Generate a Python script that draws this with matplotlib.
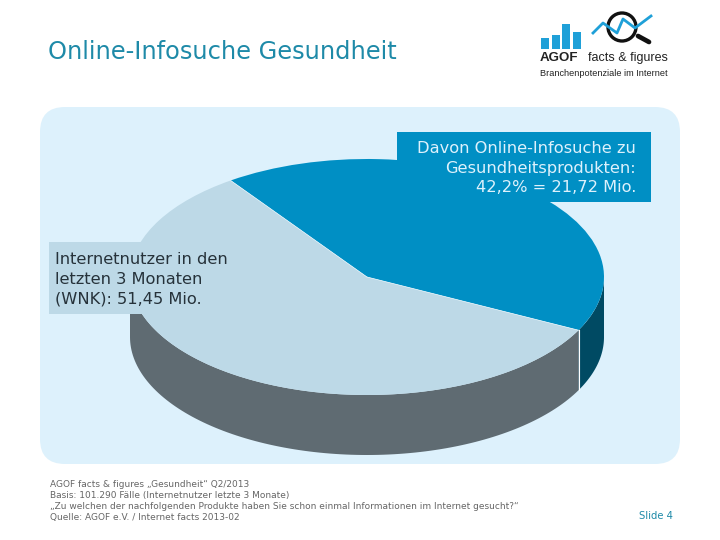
"""Online-Infosuche Gesundheit slide: tilted 3D-style pie with callout boxes and logo."""
import numpy as np
import matplotlib
matplotlib.use("Agg")
import matplotlib.pyplot as plt
from matplotlib.patches import FancyBboxPatch, Rectangle, Circle, Polygon

shares = [42.2, 57.8]
top_colors = ["#008fc4", "#bdd9e7"]
side_colors = ["#004a63", "#5f6b72"]
start_angle = -26.8

logo_bars = [11, 14, 25, 17]
logo_line_x = [593, 603, 617, 623, 635, 651]
logo_line_y = [33, 23, 33, 19, 28, 16]

title = "Online-Infosuche Gesundheit"
box_blue = "Davon Online-Infosuche zu\nGesundheitsprodukten:\n42,2% = 21,72 Mio."
box_light = "Internetnutzer in den\nletzten 3 Monaten\n(WNK): 51,45 Mio."
notes = [
    "AGOF facts & figures „Gesundheit“ Q2/2013",
    "Basis: 101.290 Fälle (Internetnutzer letzte 3 Monate)",
    "„Zu welchen der nachfolgenden Produkte haben Sie schon einmal Informationen im Internet gesucht?“",
    "Quelle: AGOF e.V. / Internet facts 2013-02",
]
slide = "Slide 4"

TEAL = "#1e8aa8"
PANEL = "#ddf1fc"
W, H = 720, 540

fig = plt.figure(figsize=(7.2, 5.4), dpi=100, facecolor="white")


def px_axes(zorder):
    a = fig.add_axes([0, 0, 1, 1], zorder=zorder)
    a.set_xlim(0, W); a.set_ylim(H, 0); a.axis("off")
    a.patch.set_alpha(0)
    return a


bg = px_axes(0)
bg.add_patch(FancyBboxPatch((40, 107), 640, 357, boxstyle="round,pad=0,rounding_size=25",
                            fc=PANEL, ec="none"))
bg.text(48, 52, title, fontsize=17.4, color=TEAL, va="center", ha="left")

# pie lives in unit coordinates, squashed into a pixel box
cx, cy, rx, ry, depth = 367, 277, 237, 118, 60
ax = fig.add_axes([(cx - rx) / W, 1 - (cy + ry + depth) / H, 2 * rx / W, (2 * ry + depth) / H], zorder=1)
d = depth / ry

# side wall: only the front half (180..360 deg) of each slice shows
edges = start_angle + np.cumsum([0] + shares) * 3.6
for i in range(len(shares)):
    for a0, a1 in [(edges[i], edges[i + 1]), (edges[i] - 360, edges[i + 1] - 360)]:
        lo, hi = max(a0, -180), min(a1, 0)
        if hi <= lo:
            continue
        t = np.radians(np.linspace(lo, hi, 120))
        xs = np.cos(t); ys = np.sin(t)
        ax.add_patch(Polygon(np.r_[np.c_[xs, ys], np.c_[xs[::-1], ys[::-1] - d]],
                             fc=side_colors[i], ec="none"))

# white seam where the slices meet on the wall
seam = np.radians(start_angle)
ax.plot([np.cos(seam)] * 2, [np.sin(seam), np.sin(seam) - d], color="white", lw=0.8)

ax.pie(shares, colors=top_colors, startangle=start_angle, radius=1, center=(0, 0),
       wedgeprops=dict(edgecolor="none"))
for a in edges[:2]:
    ax.plot([0, np.cos(np.radians(a))], [0, np.sin(np.radians(a))], color="#e8f5fb", lw=0.5)
ax.set_aspect("auto")
ax.set_xlim(-1, 1); ax.set_ylim(-1 - d, 1)
ax.axis("off")

fg = px_axes(2)
fg.add_patch(Rectangle((397, 132), 254, 70, fc=top_colors[0], ec="none"))
fg.text(636, 168, box_blue, fontsize=11.7, color=PANEL, ha="right", va="center",
        multialignment="right", linespacing=1.38)
fg.add_patch(Rectangle((49, 242), 170, 72, fc=top_colors[1], ec="none"))
fg.text(55, 279, box_light, fontsize=11.7, color="#26323a", ha="left", va="center",
        linespacing=1.38)

for i, line in enumerate(notes):
    fg.text(50, 484.5 + i * 11, line, fontsize=6.46, color="#666666", ha="left", va="center")
fg.text(673, 516, slide, fontsize=7.2, color=TEAL, ha="right", va="center")

# logo
fg.bar([545, 556, 566, 577], [-b for b in logo_bars], bottom=49, width=8, color="#1fa0d8")
fg.plot(logo_line_x, logo_line_y, color="#1fa0d8", lw=2)
fg.add_patch(Circle((622, 27), 14, fc="none", ec="#111111", lw=2.4))
fg.plot([638, 649], [36, 42], color="#111111", lw=3.4, solid_capstyle="round")
fg.text(540, 58, "AGOF", fontsize=9.6, fontweight="bold", color="#222222", va="center", family="Liberation Sans")
fg.text(588, 58, "facts & figures", fontsize=9.0, color="#222222", va="center", family="Liberation Sans")
fg.text(540, 73, "Branchenpotenziale im Internet", fontsize=6.6, color="#222222", va="center", family="Liberation Sans")

fig.savefig("out.png", dpi=100)
